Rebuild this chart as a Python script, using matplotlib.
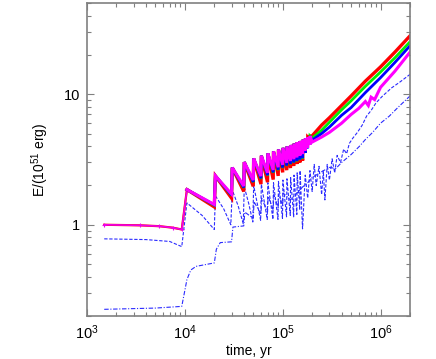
import matplotlib
matplotlib.use("Agg")
import matplotlib.pyplot as plt
from matplotlib.ticker import LogLocator, NullFormatter, FixedLocator, FixedFormatter

plt.rcParams['font.family'] = ['Liberation Sans', 'DejaVu Sans']
plt.rcParams['mathtext.default'] = 'regular'

# ---- data ----
# common early (pre-SN) segment for the four thick curves
pre_t = [1.5e3, 3.5e3, 5.5e3, 7.5e3, 9.3e3]
pre_E = [1.00, 0.99, 0.975, 0.95, 0.92]

# sawtooth: time just after each SN (peak) and just before the next (trough)
peak_t = [1.05e4, 2.05e4, 3.05e4, 4.05e4, 5.05e4, 6.05e4, 7.05e4, 8.05e4, 9.05e4,
          1.005e5, 1.105e5, 1.205e5, 1.305e5, 1.405e5, 1.505e5, 1.605e5, 1.705e5,
          1.805e5, 1.905e5]
trough_t = [2.0e4, 3.0e4, 4.0e4, 5.0e4, 6.0e4, 7.0e4, 8.0e4, 9.0e4, 1.0e5,
            1.1e5, 1.2e5, 1.3e5, 1.4e5, 1.5e5, 1.6e5, 1.7e5, 1.8e5, 1.9e5, 2.0e5]
peaks = [1.86, 2.37, 2.74, 3.02, 3.22, 3.38, 3.52, 3.65, 3.77, 3.88, 3.98, 4.08,
         4.18, 4.28, 4.38, 4.48, 4.58, 4.68, 4.78]
red_troughs = [1.37, 1.60, 1.80, 1.97, 2.05, 2.12, 2.22, 2.37, 2.52, 2.62, 2.72,
               2.82, 2.92, 3.00, 3.10, 3.70, 4.10, 4.50, 4.80]
green_troughs = [1.41, 1.68, 1.92, 2.12, 2.25, 2.38, 2.50, 2.62, 2.72, 2.82, 2.90,
                 2.98, 3.06, 3.14, 3.22, 3.60, 3.90, 4.20, 4.60]
blue_troughs = [1.42, 1.69, 1.93, 2.13, 2.27, 2.40, 2.52, 2.64, 2.74, 2.84, 2.92,
                3.00, 3.08, 3.16, 3.24, 3.55, 3.85, 4.10, 4.45]
magenta_troughs = [1.43, 1.72, 1.98, 2.20, 2.36, 2.50, 2.63, 2.76, 2.88, 2.98,
                   3.08, 3.18, 3.28, 3.38, 3.48, 3.70, 3.90, 4.10, 4.30]

# late smooth growth
late_t = [2.5e5, 3e5, 4e5, 5e5, 7e5, 1e6, 1.4e6, 2e6]
red_late = [5.8, 6.6, 8.2, 9.7, 12.6, 16.2, 21.0, 28.0]
green_late = [5.3, 6.1, 7.6, 8.9, 11.5, 14.8, 19.0, 25.2]
blue_late = [5.0, 5.6, 6.9, 7.9, 10.3, 13.4, 17.5, 23.5]
magenta_late_t = [2.5e5, 3e5, 4e5, 5e5, 6e5, 7e5, 7.5e5, 8e5, 8.7e5, 1e6, 1.4e6, 2e6]
magenta_late = [4.7, 5.1, 6.0, 7.0, 7.8, 8.8, 8.2, 9.5, 9.1, 11.3, 15.0, 21.0]

# thin blue dashed curve
dash_t = [1.5e3, 4e3, 7e3, 9.3e3, 1.05e4, 1.5e4, 2.0e4, 2.05e4, 2.5e4, 2.95e4,
          3.05e4, 3.5e4, 3.95e4, 4.05e4, 4.5e4, 4.95e4, 5.05e4, 5.95e4, 6.05e4,
          6.95e4, 7.05e4, 7.95e4, 8.05e4, 8.95e4, 9.05e4, 9.95e4, 1.005e5, 1.095e5,
          1.105e5, 1.195e5, 1.205e5, 1.295e5, 1.305e5, 1.395e5, 1.405e5, 1.495e5,
          1.505e5, 1.595e5, 1.7e5, 1.8e5, 1.9e5, 2.0e5, 2.1e5, 2.2e5, 2.35e5, 2.5e5,
          2.6e5, 2.7e5, 2.85e5, 3.0e5, 3.2e5, 3.4e5, 3.6e5, 3.9e5, 4.2e5, 4.5e5,
          4.8e5, 5.2e5, 5.8e5, 6.5e5, 7.2e5, 8.0e5, 9.0e5, 1.05e6, 1.3e6, 1.6e6, 2.0e6]
dash_E = [0.78, 0.77, 0.745, 0.68, 1.47, 1.18, 0.92, 1.67, 1.32, 1.00,
          1.85, 1.40, 1.02, 1.95, 1.45, 1.05, 2.00, 1.08, 2.05,
          1.10, 2.10, 1.10, 2.10, 1.10, 2.15, 1.12, 2.20, 1.15,
          2.25, 1.18, 2.30, 1.15, 2.40, 1.20, 2.50, 1.30,
          2.60, 0.93, 2.40, 1.60, 2.60, 1.80, 2.90, 2.00, 2.80, 1.70,
          2.60, 1.55, 2.90, 2.20, 3.20, 2.50, 3.40, 3.00, 3.80, 3.50,
          4.20, 4.60, 5.10, 5.80, 6.80, 7.50, 8.60, 9.70, 11.2, 12.5, 14.2]

# thin blue dash-dot curve
dd_t = [1.5e3, 5e3, 9.3e3, 1.05e4, 1.15e4, 1.3e4, 2.0e4, 2.1e4, 2.3e4, 3.0e4,
        3.1e4, 4.0e4, 4.1e4, 5.0e4, 5.1e4, 6.0e4, 6.1e4, 7.0e4, 7.1e4, 8.0e4,
        8.1e4, 9.0e4, 9.1e4, 1.0e5, 1.01e5, 1.2e5, 1.4e5, 1.6e5, 1.8e5, 2.0e5,
        2.5e5, 3.0e5, 3.5e5, 4.0e5, 5.0e5, 6.1e5, 7.0e5, 8.3e5, 1.0e6, 1.23e6,
        1.5e6, 2.0e6]
dd_E = [0.225, 0.23, 0.237, 0.38, 0.45, 0.48, 0.51, 0.65, 0.73, 0.74,
        0.96, 0.98, 1.25, 1.12, 1.50, 1.20, 1.60, 1.25, 1.65, 1.30,
        1.70, 1.35, 1.72, 1.40, 1.75, 1.55, 1.75, 1.95, 2.10, 2.30,
        2.55, 2.75, 2.70, 3.00, 3.45, 4.00, 4.50, 5.10, 6.00, 6.80,
        7.90, 9.70]


def assemble(troughs, late_times, late_vals):
    t = []
    e = []
    for pt, pv, tt, tv in zip(peak_t, peaks, trough_t, troughs):
        t += [pt, tt]
        e += [pv, tv]
    t += list(late_times)
    e += list(late_vals)
    return t, e


fig = plt.figure(figsize=(4.36, 3.59), dpi=100)
ax = fig.add_axes([87 / 436, 1 - 316 / 359, (410 - 87) / 436, (316 - 3) / 359])

ax.plot(dd_t, dd_E, color='#2b2bff', lw=0.8, ls=(0, (4, 1.5, 1, 1.5)))
ax.plot(dash_t, dash_E, color='#2b2bff', lw=0.8, ls=(0, (3, 1.5)))

# thin early segment (before the first SN), shared by the thick curves
ax.plot(pre_t + [peak_t[0]], pre_E + [peaks[0]], color='#ff0000', lw=1.6)
ax.plot(pre_t + [peak_t[0]], pre_E + [peaks[0]], color='#ee00ee', lw=1.2,
        marker='+', ms=3, mew=0.8)

for troughs, lt, lv, col, lw in [
        (red_troughs, late_t, red_late, '#ff0000', 2.4),
        (green_troughs, late_t, green_late, '#00ee00', 2.0),
        (blue_troughs, late_t, blue_late, '#0000ff', 2.0),
        (magenta_troughs, magenta_late_t, magenta_late, '#ff00ff', 2.2)]:
    t, e = assemble(troughs, lt, lv)
    ax.plot(t, e, color=col, lw=lw, solid_joinstyle='miter')

ax.set_xscale('log')
ax.set_yscale('log')
ax.set_xlim(1e3, 2e6)
ax.set_ylim(0.2, 50)

ax.yaxis.set_major_locator(FixedLocator([1, 10]))
ax.yaxis.set_major_formatter(FixedFormatter(['1', '10']))
ax.yaxis.set_minor_locator(LogLocator(base=10, subs=range(2, 10)))
ax.yaxis.set_minor_formatter(NullFormatter())
ax.xaxis.set_minor_locator(LogLocator(base=10, subs=range(2, 10)))
ax.xaxis.set_minor_formatter(NullFormatter())

ax.tick_params(which='both', direction='in', top=True, right=True,
               color='#808080', labelsize=10.5, pad=5)
ax.tick_params(which='major', length=5, width=0.8)
ax.tick_params(which='minor', length=3, width=0.8)
for s in ax.spines.values():
    s.set_color('#808080')
    s.set_linewidth(1.2)

ax.set_xlabel('time, yr', fontsize=10, labelpad=2)
ax.set_ylabel('E/(10$^{51}$ erg)', fontsize=10, labelpad=9)

fig.savefig('out.png', dpi=100)
